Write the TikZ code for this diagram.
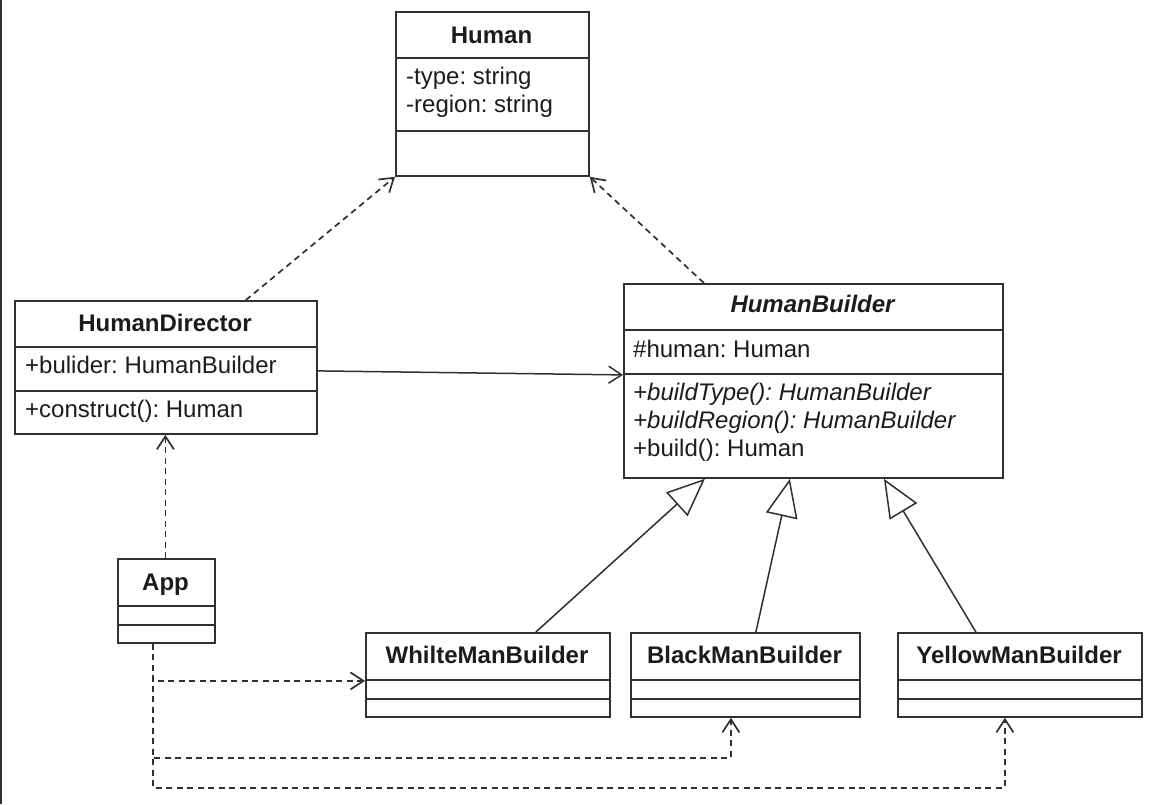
\documentclass[tikz,border=0pt]{standalone}
\usepackage{fontspec}
\setmainfont{Liberation Sans}
\usetikzlibrary{arrows.meta,calc}
\definecolor{ink}{HTML}{1C1C1C}
\definecolor{edge}{HTML}{303030}
\frenchspacing

\begin{document}
\begin{tikzpicture}[x=1pt,y=-1pt,
  classbox/.style={draw=edge, line width=1.8pt, fill=white, inner sep=0pt, anchor=north west},
  divider/.style={draw=edge, line width=1.8pt},
  classtitle/.style={font=\fontsize{24}{28}\selectfont\bfseries, text=ink, inner sep=0pt, anchor=base},
  member/.style={font=\fontsize{24}{28}\selectfont, text=ink, inner sep=0pt, anchor=base west},
  dep/.style={draw=edge, line width=1.7pt, dash pattern=on 6pt off 4.5pt,
    -{Straight Barb[length=13pt,width=17pt]}},
  assoc/.style={draw=edge, line width=1.5pt, -{Straight Barb[length=13pt,width=17pt]}},
  inherit/.style={draw=edge, line width=1.5pt,
    -{Triangle[open,length=38pt,width=32pt,fill=white]}},
]
\useasboundingbox (0,0) rectangle (1167,804);
\fill[white] (0,0) rectangle (1167,804);
\draw[edge, line width=2pt] (1,0) -- (1,804);

% ---- Human
\node[classbox, minimum width=193pt, minimum height=164pt] (human) at (395,11) {};
\draw[divider] ($(human.north west)+(0,47)$) -- ($(human.north east)+(0,47)$);
\draw[divider] ($(human.north west)+(0,120)$) -- ($(human.north east)+(0,120)$);
\node[classtitle] (humanT) at (491.5,43) {Human};
\node[member] (humanA1) at (406,84) {-type: string};
\node[member] (humanA2) at (406,112) {-region: string};

% ---- HumanDirector
\node[classbox, minimum width=302pt, minimum height=133pt] (dirc) at (14,300) {};
\draw[divider] ($(dirc.north west)+(0,47)$) -- ($(dirc.north east)+(0,47)$);
\draw[divider] ($(dirc.north west)+(0,91)$) -- ($(dirc.north east)+(0,91)$);
\node[classtitle] (dircT) at (165,331) {HumanDirector};
\node[member] (dircA) at (25,373) {+bulider: HumanBuilder};
\node[member] (dircM) at (25,417) {+construct(): Human};

% ---- HumanBuilder
\node[classbox, minimum width=379pt, minimum height=194pt] (bld) at (623,283) {};
\draw[divider] ($(bld.north west)+(0,47)$) -- ($(bld.north east)+(0,47)$);
\draw[divider] ($(bld.north west)+(0,91)$) -- ($(bld.north east)+(0,91)$);
\node[classtitle, font=\fontsize{24}{28}\selectfont\bfseries\itshape] (bldT) at (812.5,312) {HumanBuilder};
\node[member] (bldA) at (633,357) {\#human: Human};
\node[member, font=\fontsize{24}{28}\selectfont\itshape] (bldM1) at (633,400) {+buildType(): HumanBuilder};
\node[member, font=\fontsize{24}{28}\selectfont\itshape] (bldM2) at (633,428) {+buildRegion(): HumanBuilder};
\node[member] (bldM3) at (633,456) {+build(): Human};

% ---- App
\node[classbox, minimum width=97pt, minimum height=84pt] (app) at (117,558) {};
\draw[divider] ($(app.north west)+(0,48)$) -- ($(app.north east)+(0,48)$);
\draw[divider] ($(app.north west)+(0,67)$) -- ($(app.north east)+(0,67)$);
\node[classtitle] (appT) at (165.5,590) {App};

% ---- concrete builders
\node[classbox, minimum width=244pt, minimum height=84pt] (wmb) at (365,632) {};
\node[classbox, minimum width=229pt, minimum height=84pt] (bmb) at (630,632) {};
\node[classbox, minimum width=244pt, minimum height=84pt] (ymb) at (897,632) {};
\foreach \b in {wmb,bmb,ymb}{
  \draw[divider] ($(\b.north west)+(0,48)$) -- ($(\b.north east)+(0,48)$);
  \draw[divider] ($(\b.north west)+(0,67)$) -- ($(\b.north east)+(0,67)$);
}
\node[classtitle] (wmbT) at (487,663) {WhilteManBuilder};
\node[classtitle] (bmbT) at (744.5,663) {BlackManBuilder};
\node[classtitle] (ymbT) at (1019,663) {YellowManBuilder};

% ---- dependencies on Human
\draw[dep] ([xshift=80pt]dirc.north) -- (human.south west);
\draw[dep] ([xshift=-109.5pt]bld.north) -- (human.south east);

% ---- association director -> builder
\draw[assoc] ([yshift=-3.5pt]dirc.east) -- ([yshift=6pt]bld.west);

% ---- App uses director
\draw[dep] ([xshift=-1pt]app.north) -- ([xshift=-1pt]app.north |- dirc.south);

% ---- App uses concrete builders
\draw[dep] ([xshift=-13.5pt]app.south) |- ([yshift=-6pt]wmb.west);
\draw[dep] ([xshift=-13.5pt]app.south) |- ([xshift=-14.5pt,yshift=-40pt]bmb.south)
  -- ([xshift=-14.5pt]bmb.south);
\draw[dep] ([xshift=-13.5pt]app.south) |- ([xshift=-15pt,yshift=-70pt]ymb.south)
  -- ([xshift=-15pt]ymb.south);

% ---- generalization
\draw[inherit] ([xshift=48pt]wmb.north) -- ([xshift=-108.5pt]bld.south);
\draw[inherit] ([xshift=10.5pt]bmb.north) -- ([xshift=-23.5pt]bld.south);
\draw[inherit] ([xshift=-44pt]ymb.north) -- ([xshift=70.5pt]bld.south);
\end{tikzpicture}
\end{document}
